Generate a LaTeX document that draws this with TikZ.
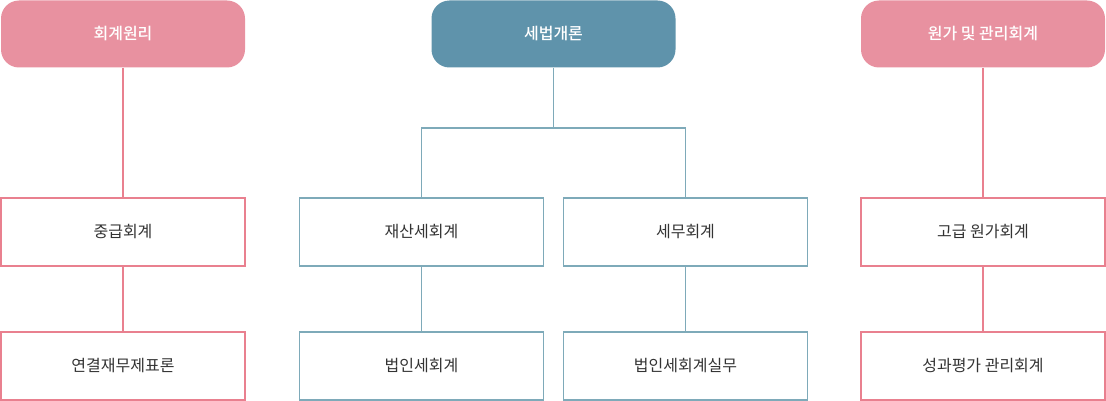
\documentclass[tikz,border=0pt]{standalone}
\usepackage{fontspec}
\setmainfont{Noto Sans CJK KR}
\newfontfamily\krbold{Noto Sans CJK KR Medium}
\definecolor{pinkf}{HTML}{E891A0}
\definecolor{pinkl}{HTML}{E9808F}
\definecolor{bluef}{HTML}{5F93AB}
\definecolor{bluel}{HTML}{7EAAB9}
\definecolor{txt}{HTML}{333333}
\begin{document}
\begin{tikzpicture}[x=1pt,y=-1pt,
  head/.style={rounded corners=18pt,minimum width=244pt,minimum height=67pt,text=white,font=\krbold\fontsize{16}{18}\selectfont,inner sep=0},
  ph/.style={head,fill=pinkf},
  bh/.style={head,fill=bluef},
  box/.style={draw,line width=1.3pt,fill=white,minimum width=244pt,minimum height=68pt,text=txt,font=\fontsize{16}{18}\selectfont,inner sep=0},
  pb/.style={box,draw=pinkl},
  bb/.style={box,draw=bluel},
  pl/.style={draw=pinkl,line width=1.3pt},
  bl/.style={draw=bluel,line width=1.3pt}]
\useasboundingbox (0,0) rectangle (1106,401);
\node[ph] (h1) at (123,34) {회계원리};
\node[bh] (h2) at (553.5,34) {세법개론};
\node[ph] (h3) at (983,34) {원가 및 관리회계};
\node[pb] (a1) at (123,232) {중급회계};
\node[pb] (a2) at (123,366) {연결재무제표론};
\node[bb] (b1) at (421.5,232) {재산세회계};
\node[bb] (b2) at (421.5,366) {법인세회계};
\node[bb] (c1) at (685.5,232) {세무회계};
\node[bb] (c2) at (685.5,366) {법인세회계실무};
\node[pb] (d1) at (983,232) {고급 원가회계};
\node[pb] (d2) at (983,366) {성과평가 관리회계};
\coordinate (j) at (553.5,128);
\draw[pl] (h1) -- (a1); \draw[pl] (a1) -- (a2);
\draw[pl] (h3) -- (d1); \draw[pl] (d1) -- (d2);
\draw[bl] (h2) -- (j);
\draw[bl] (b1.north) |- (j) -| (c1.north);
\draw[bl] (b1) -- (b2); \draw[bl] (c1) -- (c2);
\end{tikzpicture}
\end{document}
